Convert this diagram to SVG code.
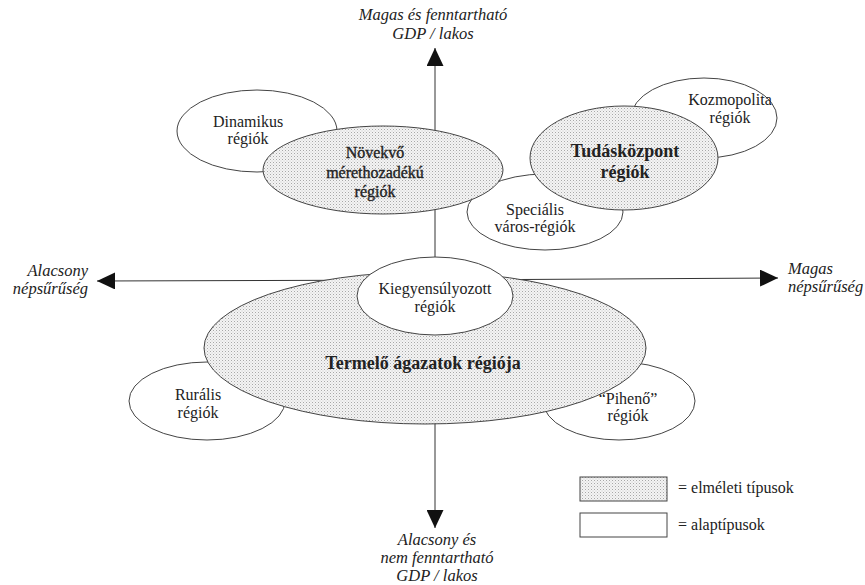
<svg xmlns="http://www.w3.org/2000/svg" width="865" height="585" viewBox="0 0 865 585">
<defs>
<pattern id="dots" width="3" height="3" patternUnits="userSpaceOnUse">
<rect width="3" height="3" fill="#f4f4f4"/>
<rect x="0" y="0" width="1" height="1" fill="#a8a8a8"/>
<rect x="1.5" y="1.5" width="1" height="1" fill="#c8c8c8"/>
</pattern>
<marker id="arr" markerUnits="userSpaceOnUse" markerWidth="18" markerHeight="17" refX="18" refY="8.5" orient="auto">
<path d="M0,0 L18,8.5 L0,17 Z" fill="#111"/>
</marker>
<style>
.ax{stroke:#333;stroke-width:1;fill:none;marker-end:url(#arr)}
.w{fill:#fff;stroke:#444;stroke-width:1}
.s{fill:url(#dots);stroke:#444;stroke-width:1}
text{font-family:"Liberation Serif","Times New Roman",serif;fill:#222;text-anchor:middle}
.t{font-size:16px}
.it{font-size:16.5px;font-style:italic}
.b{font-size:18px;font-weight:bold}
.m{font-size:16px;stroke:#222;stroke-width:0.35}
</style>
</defs>
<rect width="865" height="585" fill="#fff"/>
<g id="connectors">
<line class="ax" x1="435" y1="280" x2="435" y2="48"/>
<line class="ax" x1="435" y1="280" x2="435" y2="528"/>
<line class="ax" x1="435" y1="280" x2="97" y2="281"/>
<line class="ax" x1="435" y1="280" x2="778" y2="278"/>
</g>
<g id="axis-labels">
<text class="it" x="433" y="20">Magas és fenntartható</text>
<text class="it" x="433" y="39">GDP / lakos</text>
<text class="it" x="88" y="276" style="text-anchor:end">Alacsony</text>
<text class="it" x="88" y="294" style="text-anchor:end">népsűrűség</text>
<text class="it" x="788" y="274" style="text-anchor:start">Magas</text>
<text class="it" x="788" y="292" style="text-anchor:start">népsűrűség</text>
<text class="it" x="437" y="545">Alacsony és</text>
<text class="it" x="437" y="563">nem fenntartható</text>
<text class="it" x="437" y="581">GDP / lakos</text>
</g>
<g id="dinamikus">
<ellipse class="w" cx="257" cy="131" rx="80" ry="41"/>
<text class="t" x="248" y="127">Dinamikus</text>
<text class="t" x="248" y="144">régiók</text>
</g>
<g id="kozmopolita">
<ellipse class="w" cx="704" cy="118" rx="73" ry="40"/>
<text class="t" x="730" y="105">Kozmopolita</text>
<text class="t" x="730" y="123">régiók</text>
</g>
<g id="specialis">
<ellipse class="w" cx="545" cy="212" rx="78" ry="38"/>
<text class="t" x="535" y="215">Speciális</text>
<text class="t" x="535" y="232">város-régiók</text>
</g>
<g id="novekvo">
<ellipse class="s" cx="383" cy="170" rx="120" ry="44"/>
<text class="m" x="375" y="158">Növekvő</text>
<text class="m" x="375" y="178">mérethozadékú</text>
<text class="m" x="375" y="197">régiók</text>
</g>
<g id="tudaskozpont">
<ellipse class="s" cx="624" cy="158" rx="94" ry="52"/>
<text class="b" x="625" y="157">Tudásközpont</text>
<text class="b" x="625" y="178">régiók</text>
</g>
<g id="ruralis">
<ellipse class="w" cx="207" cy="401" rx="78" ry="39"/>
<text class="t" x="198" y="400">Rurális</text>
<text class="t" x="198" y="418">régiók</text>
</g>
<g id="piheno">
<ellipse class="w" cx="619" cy="401" rx="76" ry="39"/>
<text class="t" x="628" y="404">“Pihenő”</text>
<text class="t" x="628" y="421">régiók</text>
</g>
<g id="termelo">
<ellipse class="s" cx="425" cy="348" rx="221" ry="76"/>
<text class="b" x="423" y="369">Termelő ágazatok régiója</text>
</g>
<g id="kiegyensulyozott">
<ellipse class="w" cx="435" cy="296" rx="78" ry="39"/>
<text class="t" x="435" y="294">Kiegyensúlyozott</text>
<text class="t" x="435" y="312">régiók</text>
</g>
<g id="legend">
<rect class="s" x="580" y="477" width="87" height="24"/>
<text class="t" x="678" y="493" style="text-anchor:start">= elméleti típusok</text>
<rect class="w" x="580" y="513" width="87" height="24"/>
<text class="t" x="678" y="530" style="text-anchor:start">= alaptípusok</text>
</g>
</svg>
